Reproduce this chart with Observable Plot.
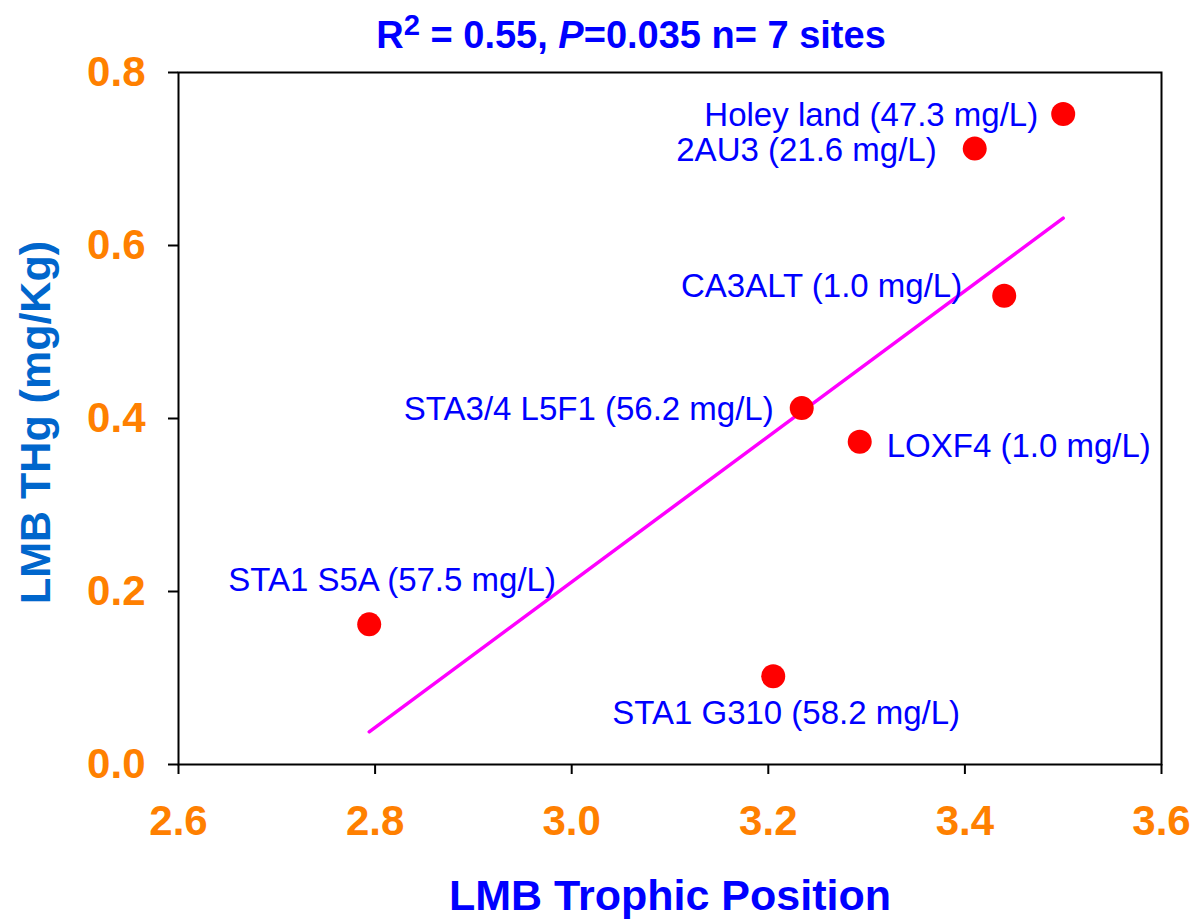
<!DOCTYPE html>
<html>
<head>
<meta charset="utf-8">
<script src="https://cdn.jsdelivr.net/npm/d3@7"></script>
<script src="https://cdn.jsdelivr.net/npm/@observablehq/plot@0.6"></script>
<style>
  html, body { margin: 0; padding: 0; background: #fff; }
  body { width: 1204px; height: 923px; overflow: hidden; font-family: "Liberation Sans", Arial, sans-serif; }
  .title { height: 60px; box-sizing: border-box; padding-top: 16px; padding-left: 58px; text-align: center;
           font-size: 38px; line-height: 1; font-weight: bold; color: #0000FF; white-space: nowrap; }
  .title sup { font-size: 0.77em; vertical-align: baseline; position: relative; top: -0.45em; }
  #chart svg { display: block; }
</style>
</head>
<body>
<div class="title">R<sup>2</sup> = 0.55, <i>P</i>=0.035 n= 7 sites</div>
<div id="chart"></div>
<script>
// ---- data ----
const sites = ["Holey land", "2AU3", "CA3ALT", "STA3/4 L5F1", "LOXF4", "STA1 S5A", "STA1 G310"];
const sulfate = [47.3, 21.6, 1.0, 56.2, 1.0, 57.5, 58.2];       // mg/L shown in labels
const trophicPosition = [3.50, 3.41, 3.44, 3.234, 3.293, 2.794, 3.205];
const thg = [0.752, 0.712, 0.542, 0.412, 0.373, 0.162, 0.102];   // mg/Kg
const xTicks = [2.6, 2.8, 3.0, 3.2, 3.4, 3.6];
const yTicks = [0.0, 0.2, 0.4, 0.6, 0.8];

// label placement (pixel offsets from each point), kept apart from the data
const labelPlacement = [
  {anchor: "end",   dx: -25,  dy: 1},
  {anchor: "end",   dx: -38,  dy: 2},
  {anchor: "end",   dx: -42,  dy: -9},
  {anchor: "end",   dx: -28,  dy: 1},
  {anchor: "start", dx: 27,   dy: 5},
  {anchor: "start", dx: -141, dy: -44},
  {anchor: "start", dx: -161, dy: 37}
];

const rows = sites.map((s, i) => ({
  site: s,
  label: `${s} (${sulfate[i].toFixed(1)} mg/L)`,
  x: trophicPosition[i],
  y: thg[i]
}));

const font = "'Liberation Sans', Arial, sans-serif";
const orange = "#FF8000";

const labelMarks = rows.map((r, i) => Plot.text([r], {
  x: "x", y: "y", text: "label",
  textAnchor: labelPlacement[i].anchor,
  dx: labelPlacement[i].dx, dy: labelPlacement[i].dy,
  fill: "#0000FF", fontSize: 33, fontFamily: font
}));

const chart = Plot.plot({
  width: 1204,
  height: 863,
  marginLeft: 178,
  marginRight: 43,
  marginTop: 12,
  marginBottom: 159,
  style: {fontFamily: font, background: "white", overflow: "visible"},
  x: {domain: [2.6, 3.6]},
  y: {domain: [0, 0.8]},
  marks: [
    Plot.axisX({ticks: xTicks, tickFormat: d3.format(".1f"), tickSize: 10, tickPadding: 31,
      stroke: "black", strokeWidth: 2, fill: orange, fontSize: 42, fontWeight: "bold", label: null}),
    Plot.axisY({ticks: yTicks, tickFormat: d3.format(".1f"), tickSize: 10, tickPadding: 23,
      stroke: "black", strokeWidth: 2, fill: orange, fontSize: 42, fontWeight: "bold", label: null}),
    Plot.frame({stroke: "black", strokeWidth: 2}),
    Plot.linearRegressionY(rows, {x: "x", y: "y", stroke: "#FF00FF", strokeWidth: 3.5, ci: 0}),
    Plot.dot(rows, {x: "x", y: "y", r: 12, fill: "#FF0000", stroke: "none"}),
    ...labelMarks,
    Plot.text(["LMB Trophic Position"], {frameAnchor: "bottom", dy: 132, lineAnchor: "middle",
      textAnchor: "middle", fill: "#0000FF", fontSize: 43, fontWeight: "bold", fontFamily: font}),
    Plot.text(["LMB THg (mg/Kg)"], {frameAnchor: "left", dx: -142, dy: 4, rotate: -90, lineAnchor: "middle",
      textAnchor: "middle", fill: "#0066CC", fontSize: 43, fontWeight: "bold", fontFamily: font})
  ]
});
document.getElementById("chart").appendChild(chart);
</script>
</body>
</html>
